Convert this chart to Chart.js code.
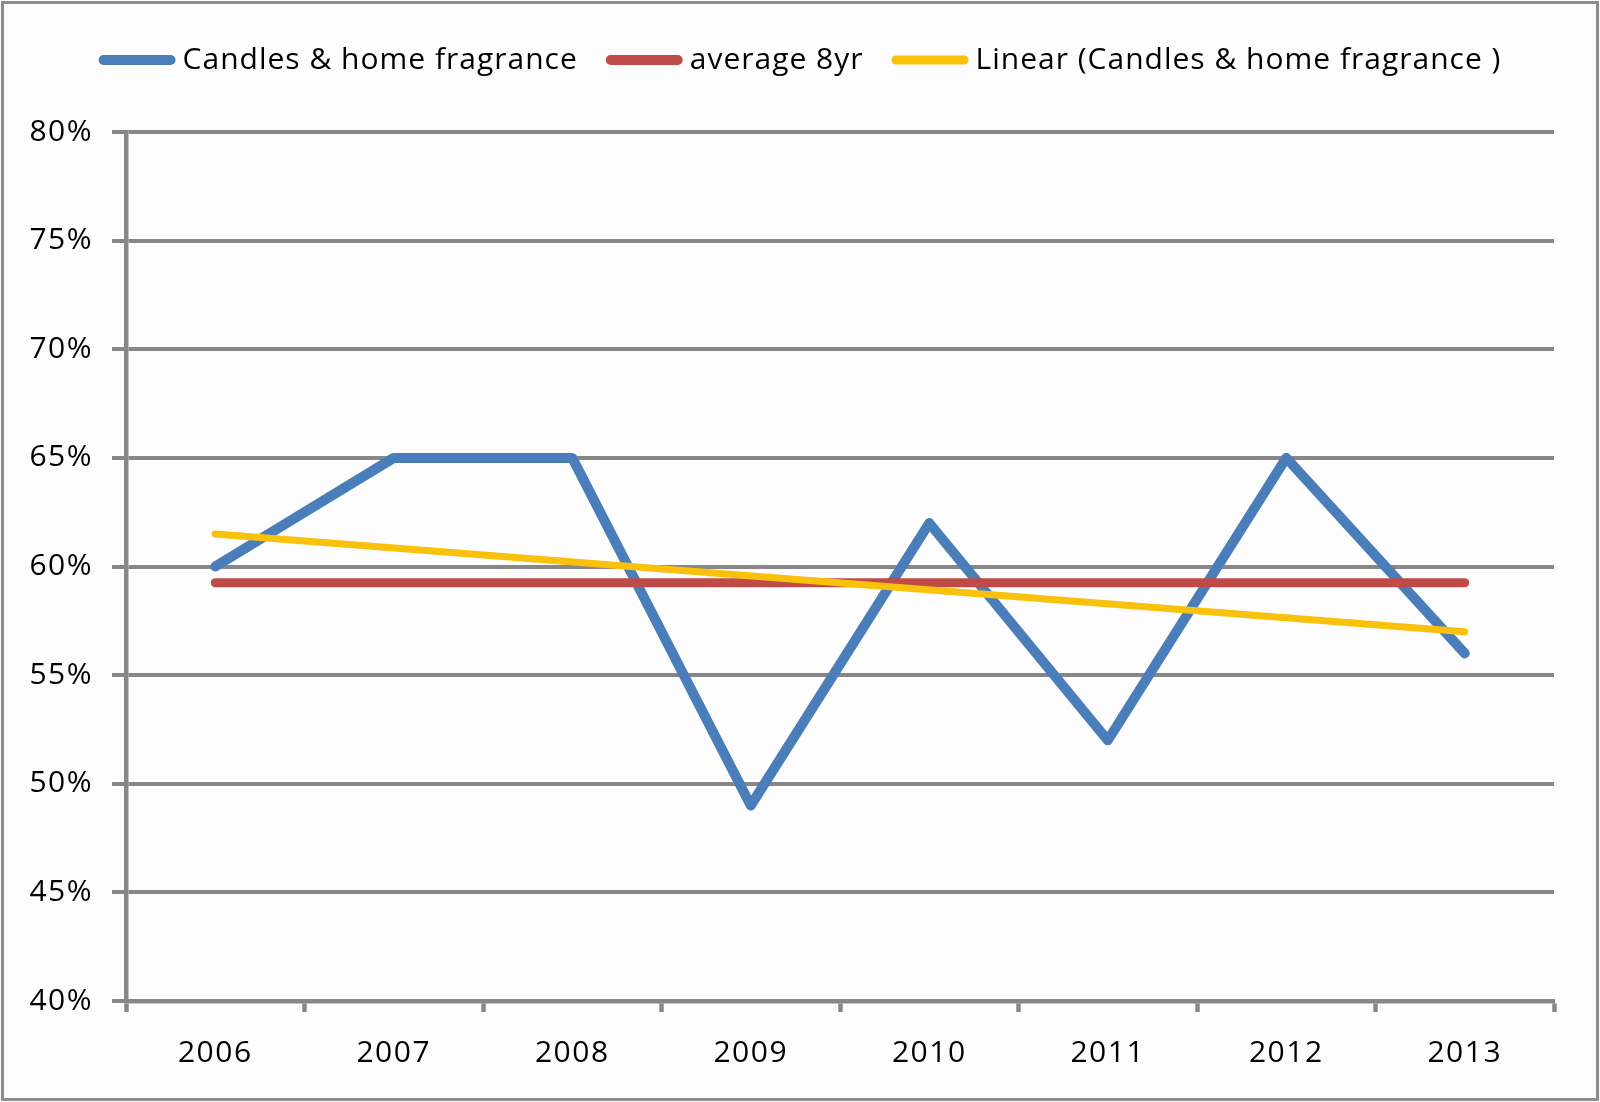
<!DOCTYPE html>
<html>
<head>
<meta charset="utf-8">
<script src="https://cdn.jsdelivr.net/npm/chart.js@4.4.1/dist/chart.umd.min.js"></script>
<style>
html,body{margin:0;padding:0;background:#fff;}
#wrap{width:1600px;height:1102px;position:relative;}
</style>
</head>
<body>
<div id="wrap"><canvas id="c" width="1600" height="1102"></canvas></div>
<script>
const categories = ['2006','2007','2008','2009','2010','2011','2012','2013'];
const candles = [60, 65, 65, 49, 62, 52, 65, 56];
const average8yr = [59.25, 59.25, 59.25, 59.25, 59.25, 59.25, 59.25, 59.25];
const linearTrend = [61.5, null, null, null, null, null, null, 57.0];
const seriesLabels = ['Candles & home fragrance', 'average 8yr', 'Linear (Candles & home fragrance )'];
const yMin = 40, yMax = 80, yStep = 5;

const FONT = '"Open Sans", Lato, sans-serif';
const GRID = '#878787';

const bgPlugin = {
  id: 'bg',
  beforeDraw(chart) {
    const ctx = chart.ctx;
    ctx.save();
    ctx.fillStyle = '#fdfdfd';
    ctx.fillRect(0, 0, chart.width, chart.height);
    ctx.strokeStyle = '#8c8c8c';
    ctx.lineWidth = 3;
    ctx.strokeRect(2.5, 2.5, chart.width - 5, chart.height - 5);
    ctx.restore();
    if ('letterSpacing' in ctx) ctx.letterSpacing = '1.5px';
  }
};

const legendPlugin = {
  id: 'customLegend',
  afterDraw(chart) {
    const ctx = chart.ctx;
    ctx.save();
    ctx.font = '30px ' + FONT;
    if ('letterSpacing' in ctx) ctx.letterSpacing = '1px';
    ctx.textBaseline = 'middle';
    const boxW = 77, gapText = 7, gapItem = 28, y = 60;
    const items = chart.data.datasets.map(d => ({text: d.label, color: d.borderColor, w: d.legendWidth}));
    let total = 0;
    items.forEach((it, i) => {
      it.tw = ctx.measureText(it.text).width;
      total += boxW + gapText + it.tw + (i < items.length - 1 ? gapItem : 0);
    });
    let x = (chart.width - total) / 2;
    items.forEach(it => {
      ctx.strokeStyle = it.color;
      ctx.lineWidth = it.w;
      ctx.lineCap = 'round';
      ctx.beginPath();
      ctx.moveTo(x + it.w / 2, y);
      ctx.lineTo(x + boxW - it.w / 2, y);
      ctx.stroke();
      ctx.fillStyle = '#000';
      ctx.fillText(it.text, x + boxW + gapText, y);
      x += boxW + gapText + it.tw + gapItem;
    });
    ctx.restore();
  }
};

new Chart(document.getElementById('c'), {
  type: 'line',
  data: {
    labels: categories,
    datasets: [
      {label: seriesLabels[0], data: candles, borderColor: '#4A7EBB', borderWidth: 10, legendWidth: 10, order: 3},
      {label: seriesLabels[1], data: average8yr, borderColor: '#BE4B48', borderWidth: 9, legendWidth: 10, order: 2},
      {label: seriesLabels[2], data: linearTrend, borderColor: '#F9C00C', borderWidth: 7, legendWidth: 9, order: 1, spanGaps: true}
    ]
  },
  options: {
    responsive: false,
    animation: false,
    devicePixelRatio: 1,
    layout: {padding: {top: 132, right: 46, left: 0, bottom: 0}},
    elements: {
      line: {tension: 0, borderCapStyle: 'round', borderJoinStyle: 'round', fill: false},
      point: {radius: 0, hoverRadius: 0}
    },
    plugins: {legend: {display: false}, tooltip: {enabled: false}},
    scales: {
      x: {
        type: 'category',
        offset: true,
        grid: {offset: true, drawOnChartArea: false, drawTicks: true, tickLength: 11, tickWidth: 4.5, tickColor: GRID, color: GRID},
        border: {display: true, color: GRID, width: 4.5},
        ticks: {color: '#000', font: {family: FONT, size: 30}, padding: 23, maxRotation: 0},
        afterFit(scale) { scale.height = 101; }
      },
      y: {
        min: yMin, max: yMax,
        grid: {color: GRID, lineWidth: 4, drawTicks: true, tickLength: 14, tickWidth: 4, tickColor: GRID},
        border: {display: true, color: GRID, width: 4.5},
        ticks: {stepSize: yStep, color: '#000', font: {family: FONT, size: 30}, padding: 19,
          callback: v => v + '%'},
        afterFit(scale) { scale.width = 126; }
      }
    }
  },
  plugins: [bgPlugin, legendPlugin]
});
</script>
</body>
</html>
